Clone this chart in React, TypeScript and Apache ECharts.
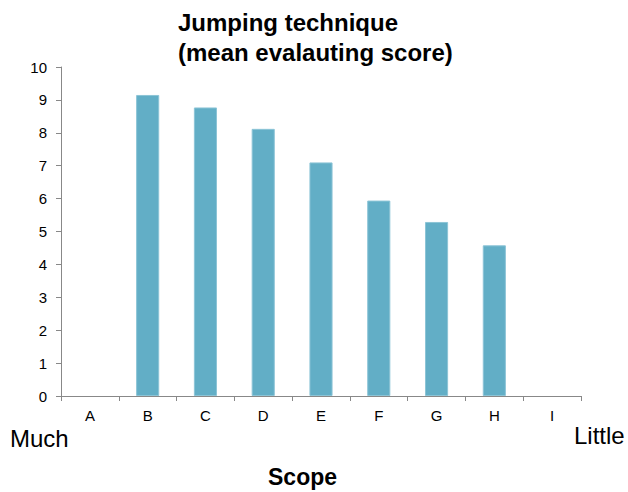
import React, { useEffect, useRef } from "react";
import * as echarts from "echarts";

const categories = ["A", "B", "C", "D", "E", "F", "G", "H", "I"];
const scores: (number | null)[] = [null, 9.15, 8.77, 8.12, 7.1, 5.94, 5.29, 4.58, null];
const titleLines = ["Jumping technique", "(mean evalauting score)"];
const axisName = "Scope";
const leftNote = "Much";
const rightNote = "Little";

const FONT = "Liberation Sans, Arial, Helvetica, sans-serif";

export default function App() {
  const ref = useRef<HTMLDivElement>(null);
  useEffect(() => {
    if (!ref.current) return;
    const chart = echarts.init(ref.current, null, { renderer: "svg" });
    chart.setOption({
      animation: false,
      backgroundColor: "#ffffff",
      textStyle: { fontFamily: FONT },
      grid: { left: 61, top: 67, right: 47, bottom: 96, containLabel: false },
      xAxis: {
        type: "category",
        data: categories,
        boundaryGap: true,
        axisLine: { show: true, lineStyle: { color: "#888888", width: 1 } },
        axisTick: { show: true, length: 5, lineStyle: { color: "#888888" } },
        axisLabel: { color: "#000000", fontSize: 15, margin: 12, fontFamily: FONT },
        splitLine: { show: false },
      },
      yAxis: {
        type: "value",
        min: 0,
        max: 10,
        interval: 1,
        axisLine: { show: true, lineStyle: { color: "#888888", width: 1 } },
        axisTick: { show: true, length: 5, inside: false, lineStyle: { color: "#888888" } },
        axisLabel: { color: "#000000", fontSize: 15, margin: 14, fontFamily: FONT },
        splitLine: { show: false },
      },
      series: [
        {
          type: "bar",
          data: scores,
          barWidth: "40%",
          itemStyle: { color: "#62AEC6", borderColor: "#8CC4D6", borderWidth: 1 },
        },
      ],
      graphic: [
        {
          type: "text",
          left: 178,
          top: 10,
          style: { text: titleLines[0], font: `bold 24px ${FONT}`, fill: "#000000" },
        },
        {
          type: "text",
          left: 178,
          top: 40,
          style: { text: titleLines[1], font: `bold 24px ${FONT}`, fill: "#000000" },
        },
        {
          type: "text",
          left: 10,
          top: 426,
          style: { text: leftNote, font: `24px ${FONT}`, fill: "#000000" },
        },
        {
          type: "text",
          left: 574,
          top: 423,
          style: { text: rightNote, font: `24px ${FONT}`, fill: "#000000" },
        },
        {
          type: "text",
          left: 268,
          top: 465,
          style: { text: axisName, font: `bold 23px ${FONT}`, fill: "#000000" },
        },
      ],
    });
    return () => chart.dispose();
  }, []);
  return (
    <div
      ref={ref}
      style={{ position: "fixed", left: 0, top: 0, width: 628, height: 492, background: "#fff" }}
    />
  );
}
